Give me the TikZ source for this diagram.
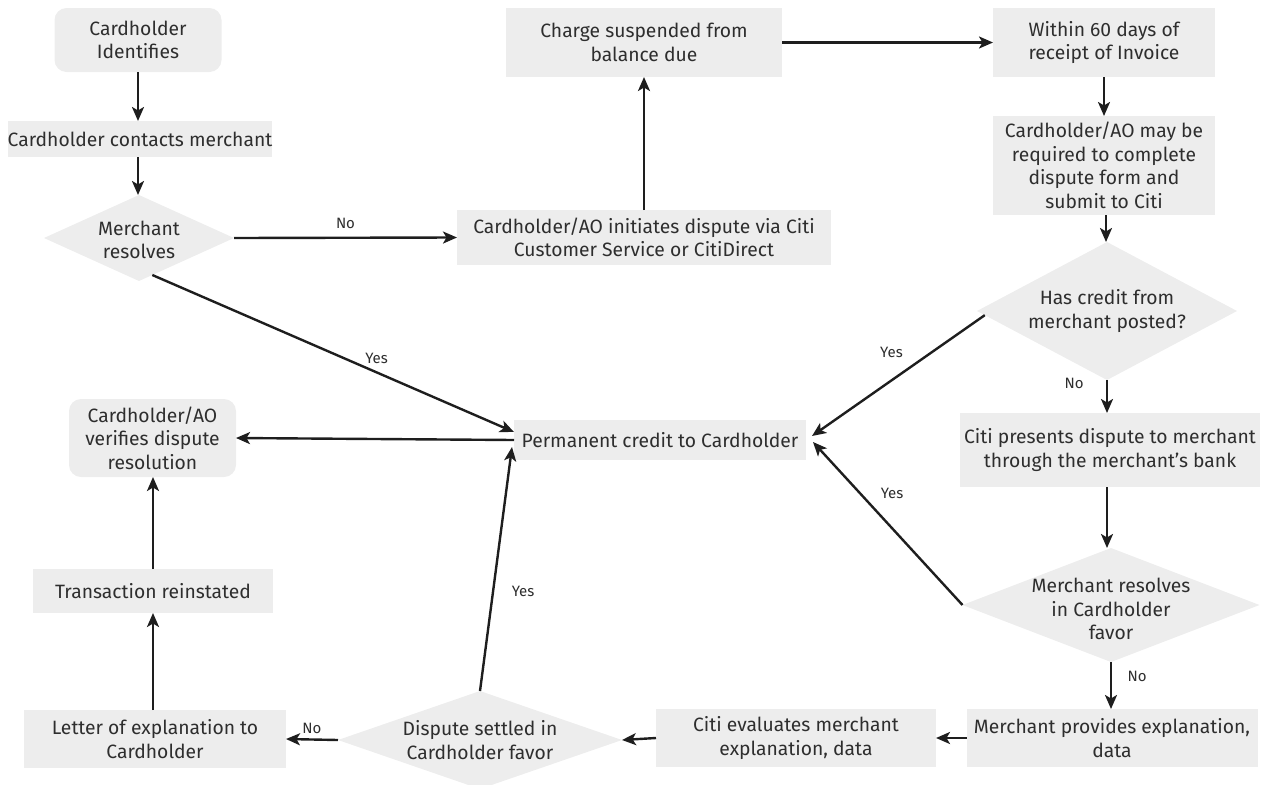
\documentclass[tikz,border=0pt]{standalone}
\usepackage{fontspec}
\setmainfont{Fira Sans}
\usetikzlibrary{shapes.geometric,arrows.meta,calc}
\definecolor{boxfill}{HTML}{EDEDED}
\definecolor{ink}{HTML}{2E2E2E}
\definecolor{arrowink}{HTML}{1E1E1E}
\begin{document}
\begin{tikzpicture}[x=1pt,y=-1pt,
  box/.style={draw=none, fill=boxfill, inner sep=0pt, outer sep=0pt, align=center, text=ink, font=\fontsize{19.3}{23.5}\selectfont},
  rbox/.style={box, rounded corners=12pt},
  dia/.style={diamond, fill=boxfill, inner sep=0pt, outer sep=0pt},
  txt/.style={inner sep=0pt, align=center, text=ink, font=\fontsize{19.3}{23.5}\selectfont},
  lbl/.style={inner sep=0pt, text=ink, font=\fontsize{15}{17}\selectfont},
  arr/.style={draw=arrowink, line width=2.4pt, -{Stealth[length=14pt,width=12pt,inset=3.5pt]}},
]
\useasboundingbox (0,0) rectangle (1262,785);
\clip (0,0) rectangle (1262,785);

% nodes
\node[rbox, minimum width=167pt, minimum height=64pt] (idf) at (138,40) {Cardholder\\Identifies};
\node[box, minimum width=264pt, minimum height=36pt] (contact) at (140,139) {Cardholder contacts merchant};
\node[dia, minimum width=190pt, minimum height=86pt,
      label={[txt, yshift=-2pt]center:Merchant\\resolves}] (mres) at (139,238) {};
\node[box, minimum width=374pt, minimum height=55pt] (init) at (644,237.5) {Cardholder/AO initiates dispute via Citi\\Customer Service or CitiDirect};
\node[box, minimum width=276pt, minimum height=69pt] (charge) at (644,42.5) {Charge suspended from\\balance due};
\node[box, minimum width=222pt, minimum height=69pt] (within) at (1104,42.5) {Within 60 days of\\receipt of Invoice};
\node[box, minimum width=222pt, minimum height=99pt] (may) at (1104,165.5) {Cardholder/AO may be\\required to complete\\dispute form and\\submit to Citi};
\node[dia, minimum width=260pt, minimum height=138pt,
      label={[txt]center:Has credit from\\merchant posted?}] (credit) at (1107,311) {};
\node[box, minimum width=300pt, minimum height=74pt] (present) at (1110,450) {Citi presents dispute to merchant\\through the merchant’s bank};
\node[dia, minimum width=297pt, minimum height=114pt,
      label={[txt, yshift=-4pt]center:Merchant resolves\\in Cardholder\\favor}] (mfav) at (1111,605) {};
\node[box, minimum width=291pt, minimum height=58pt] (provide) at (1112,738) {Merchant provides explanation,\\data};
\node[box, minimum width=280pt, minimum height=58pt] (eval) at (796,738) {Citi evaluates merchant\\explanation, data};
\node[dia, minimum width=284pt, minimum height=98pt,
      label={[txt]center:Dispute settled in\\Cardholder favor}] (disp) at (480,740) {};
\node[box, minimum width=262pt, minimum height=58pt] (letter) at (155,739) {Letter of explanation to\\Cardholder};
\node[box, minimum width=240pt, minimum height=44pt] (reinst) at (153,591) {Transaction reinstated};
\node[rbox, minimum width=167pt, minimum height=78pt] (verif) at (152.5,438) {Cardholder/AO\\verifies dispute\\resolution};
\node[box, minimum width=292pt, minimum height=40pt] (perm) at (660,440) {Permanent credit to Cardholder};

% connectors
\draw[arr] (idf.south) -- (idf.south |- contact.north);
\draw[arr] (idf.south |- contact.south) -- (idf.south |- mres.north);
\draw[arr] (mres.east) -- node[lbl, midway, yshift=14pt] {No} (init.west);
\draw[arr] (init.north) -- (charge.south);
\draw[arr] (charge.east) -- (within.west);
\draw[arr] (within.south) -- (may.north);
\draw[arr] ([xshift=2pt]may.south) -- ([xshift=2pt]may.south |- credit.north);
\draw[arr] ($(credit.west)!0.06!(credit.south)$) -- node[lbl, pos=0.54, yshift=28pt] {Yes} ([xshift=6pt,yshift=4pt]perm.east);
\draw[arr] (credit.south) -- node[lbl, pos=0, xshift=-33pt, yshift=-3pt] {No} (credit.south |- present.north);
\draw[arr] (credit.south |- present.south) -- (credit.south |- mfav.north);
\draw[arr] (mfav.west) -- node[lbl, pos=0.685, xshift=32pt] {Yes} ([xshift=7pt,yshift=-2pt]perm.east);
\draw[arr] (mfav.south) -- node[lbl, pos=0, xshift=26pt, yshift=-14pt] {No} (mfav.south |- provide.north);
\draw[arr] (provide.west) -- (eval.east);
\draw[arr] (eval.west) -- (disp.east);
\draw[arr] (disp.west) -- node[lbl, midway, yshift=11pt] {No} (letter.east);
\draw[arr] (disp.north) -- node[lbl, pos=0.41, xshift=30pt] {Yes} ([xshift=-2pt,yshift=-7pt]perm.west);
\draw[arr] (reinst.south |- letter.north) -- (reinst.south);
\draw[arr] (reinst.north) -- (reinst.north |- verif.south);
\draw[arr] (perm.west) -- (verif.east);
\draw[arr] ($(mres.south)!0.14!(mres.east)$) -- node[lbl, pos=0.62, yshift=14pt] {Yes} ([yshift=8pt]perm.west);
\end{tikzpicture}
\end{document}
